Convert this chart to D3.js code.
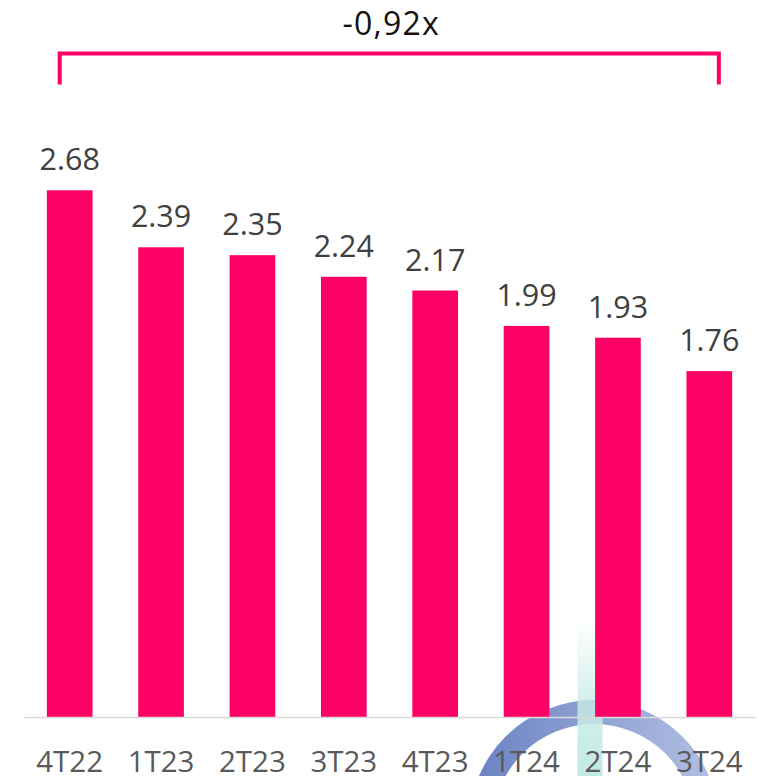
<!DOCTYPE html>
<html>
<head>
<meta charset="utf-8">
<script src="https://cdn.jsdelivr.net/npm/d3@7"></script>
<style>
  html, body { margin: 0; padding: 0; background: #ffffff; }
  svg { display: block; font-family: "Open Sans", "Noto Sans", sans-serif; }
</style>
</head>
<body>
<svg id="chart" width="759" height="776"></svg>
<script>
const categories = ["4T22", "1T23", "2T23", "3T23", "4T23", "1T24", "2T24", "3T24"];
const values = [2.68, 2.39, 2.35, 2.24, 2.17, 1.99, 1.93, 1.76];
const valueLabels = ["2.68", "2.39", "2.35", "2.24", "2.17", "1.99", "1.93", "1.76"];
const changeLabel = "-0,92x";

const W = 759, H = 776;
const baseY = 717;
const svg = d3.select("#chart");

const x = d3.scaleBand()
  .domain(categories)
  .range([24, 755])
  .paddingInner(0.5)
  .paddingOuter(0.25);

const y = d3.scaleLinear()
  .domain([0, d3.max(values)])
  .range([baseY, 190.3]);

// background watermark (logo fragment)
const defs = svg.append("defs");
const ringGrad = defs.append("linearGradient").attr("id", "ringGrad")
  .attr("x1", "0%").attr("x2", "100%").attr("y1", "0%").attr("y2", "0%");
ringGrad.append("stop").attr("offset", "0%").attr("stop-color", "#6a82c4");
ringGrad.append("stop").attr("offset", "100%").attr("stop-color", "#b3c0e2");
const tealGrad = defs.append("linearGradient").attr("id", "tealGrad")
  .attr("x1", "0%").attr("x2", "0%").attr("y1", "0%").attr("y2", "100%");
tealGrad.append("stop").attr("offset", "0%").attr("stop-color", "#c6ebe5").attr("stop-opacity", 0);
tealGrad.append("stop").attr("offset", "55%").attr("stop-color", "#c6ebe5").attr("stop-opacity", 0.8);
tealGrad.append("stop").attr("offset", "100%").attr("stop-color", "#c2eae4").attr("stop-opacity", 1);

const wm = svg.append("g").attr("class", "watermark");
wm.append("path")
  .attr("transform", "translate(594,825)")
  .attr("d", d3.arc().innerRadius(101).outerRadius(125).startAngle(-Math.PI).endAngle(Math.PI)())
  .attr("fill", "url(#ringGrad)");
wm.append("rect")
  .attr("x", 577.5).attr("y", 618).attr("width", 25).attr("height", H - 618)
  .attr("fill", "url(#tealGrad)");

// bars
svg.append("g").selectAll("rect")
  .data(values)
  .join("rect")
  .attr("x", (d, i) => x(categories[i]))
  .attr("y", d => y(d))
  .attr("width", x.bandwidth())
  .attr("height", d => baseY - y(d))
  .attr("fill", "#ff0066");

// baseline axis
const xAxis = d3.axisBottom(x).tickSize(0).tickPadding(0).tickFormat("");
const axisG = svg.append("g").attr("transform", `translate(0,${baseY})`).call(xAxis);
axisG.select(".domain").attr("stroke", "#d9d9d9").attr("stroke-width", 1.5);

// category labels
svg.append("g").selectAll("text")
  .data(categories)
  .join("text")
  .attr("x", d => x(d) + x.bandwidth() / 2)
  .attr("y", 772)
  .attr("text-anchor", "middle")
  .attr("font-size", 29.5)
  .attr("fill", "#595959")
  .text(d => d);

// value labels
svg.append("g").selectAll("text")
  .data(values)
  .join("text")
  .attr("x", (d, i) => x(categories[i]) + x.bandwidth() / 2)
  .attr("y", d => y(d) - 20)
  .attr("text-anchor", "middle")
  .attr("font-size", 30.5)
  .attr("fill", "#404040")
  .text((d, i) => valueLabels[i]);

// bracket
const xl = x(categories[0]) + x.bandwidth() / 2 - 10;
const xr = x(categories[categories.length - 1]) + x.bandwidth() / 2 + 9.5;
svg.append("path")
  .attr("d", `M${xl},84.5 V53.5 H${xr} V84.5`)
  .attr("fill", "none")
  .attr("stroke", "#ff0066")
  .attr("stroke-width", 4);

svg.append("text")
  .attr("x", (xl + xr) / 2 + 2)
  .attr("y", 35)
  .attr("text-anchor", "middle")
  .attr("font-size", 32)
  .attr("letter-spacing", 1.2)
  .attr("fill", "#111111")
  .text(changeLabel);
</script>
</body>
</html>
